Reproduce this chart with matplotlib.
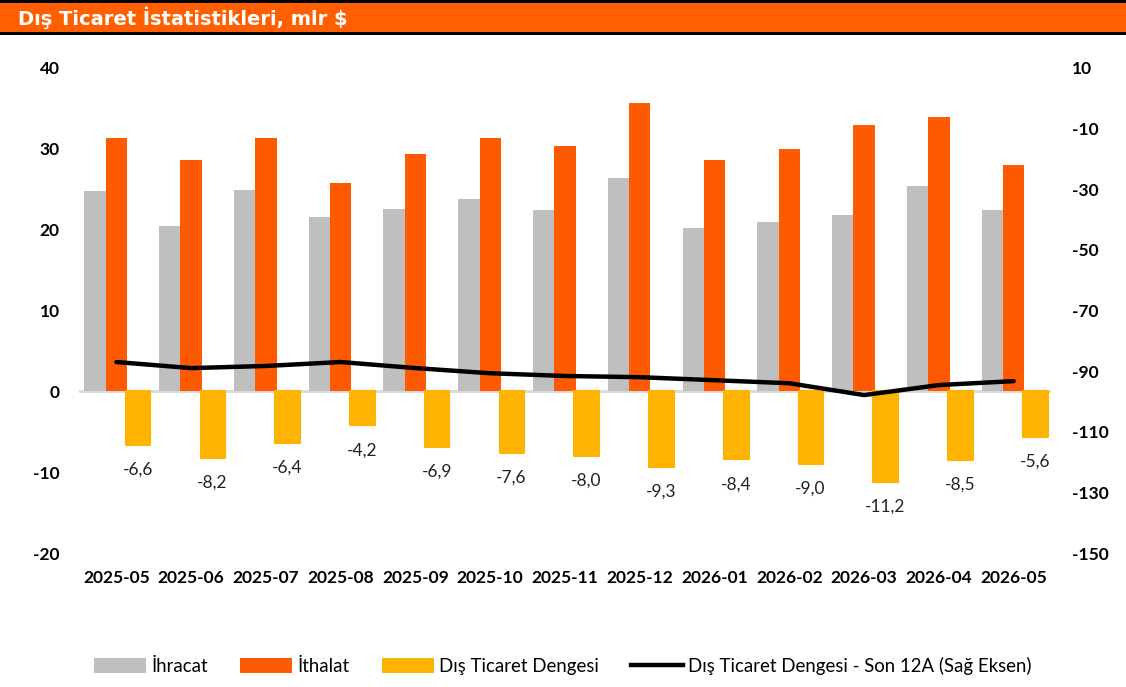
import matplotlib.pyplot as plt
from matplotlib.patches import Rectangle, Patch
from matplotlib.lines import Line2D
import numpy as np

months = ['2025-05', '2025-06', '2025-07', '2025-08', '2025-09', '2025-10', '2025-11',
          '2025-12', '2026-01', '2026-02', '2026-03', '2026-04', '2026-05']
ihracat = [24.8, 20.4, 24.9, 21.6, 22.5, 23.8, 22.4, 26.4, 20.2, 21.0, 21.8, 25.4, 22.4]
ithalat = [31.4, 28.6, 31.3, 25.8, 29.4, 31.4, 30.4, 35.7, 28.6, 30.0, 33.0, 33.9, 28.0]
denge = [-6.6, -8.2, -6.4, -4.2, -6.9, -7.6, -8.0, -9.3, -8.4, -9.0, -11.2, -8.5, -5.6]
denge_12a = [-87.0, -89.0, -88.3, -87.0, -89.0, -90.7, -91.6, -92.0, -93.0, -94.0, -97.9, -94.6, -93.3]

GRAY = '#BFBFBF'
ORANGE = '#FF5A00'
YELLOW = '#FDB300'

plt.rcParams['font.family'] = ['Lato', 'DejaVu Sans']
plt.rcParams['axes.unicode_minus'] = False

fig = plt.figure(figsize=(11.26, 6.87), dpi=100)

# title band
fig.patches.append(Rectangle((0, 1 - 33 / 687), 1, 30 / 687, transform=fig.transFigure,
                             facecolor='#FF5F00', edgecolor='none'))
fig.patches.append(Rectangle((0, 1 - 3 / 687), 1, 3 / 687, transform=fig.transFigure,
                             facecolor='black', edgecolor='none'))
fig.patches.append(Rectangle((0, 1 - 35 / 687), 1, 3 / 687, transform=fig.transFigure,
                             facecolor='black', edgecolor='none'))
fig.text(18 / 1126, 1 - 18 / 687, 'Dış Ticaret İstatistikleri, mlr $', color='white',
         fontsize=14, fontweight='bold', va='center', ha='left', family='DejaVu Sans')

ax = fig.add_axes([79 / 1126, 134 / 687, 972 / 1126, 485 / 687])
x = np.arange(len(months))
w = 0.285
ax.bar(x - w, ihracat, width=w, color=GRAY, zorder=2)
ax.bar(x, ithalat, width=w, color=ORANGE, zorder=2)
ax.bar(x + w + 0.005, denge, width=0.33, color=YELLOW, edgecolor=YELLOW,
       linewidth=1.5, joinstyle='round', zorder=2)
ax.axhline(0, color='#D9D9D9', linewidth=2, zorder=1)

for xi, v in zip(x, denge):
    ax.annotate(f'{v:.1f}'.replace('.', ','), (xi + w, v), xytext=(0, -18),
                textcoords='offset points', ha='center', va='center',
                fontsize=12.5, color='#222222')

ax.set_xlim(-0.5, len(months) - 0.5)
ax.set_ylim(-20, 40)
ax.set_yticks([-20, -10, 0, 10, 20, 30, 40])
ax.set_xticks(x)
ax.set_xticklabels(months)
for s in ax.spines.values():
    s.set_visible(False)
ax.tick_params(length=0, labelsize=12.5)
ax.tick_params(axis='y', pad=14)
ax.tick_params(axis='x', pad=12)
for lbl in ax.get_xticklabels() + ax.get_yticklabels():
    lbl.set_fontweight('bold')

ax2 = ax.twinx()
ax2.plot(x, denge_12a, color='black', linewidth=3.2, solid_capstyle='round', zorder=3)
ax2.set_ylim(-150, 10)
ax2.set_yticks(np.arange(-150, 11, 20))
for s in ax2.spines.values():
    s.set_visible(False)
ax2.tick_params(length=0, labelsize=12.5, pad=15)
for lbl in ax2.get_yticklabels():
    lbl.set_fontweight('bold')

handles = [Patch(facecolor=GRAY), Patch(facecolor=ORANGE), Patch(facecolor=YELLOW),
           Line2D([0], [0], color='black', linewidth=3.2)]
labels = ['İhracat', 'İthalat', 'Dış Ticaret Dengesi', 'Dış Ticaret Dengesi - Son 12A (Sağ Eksen)']
fig.legend(handles, labels, loc='center', bbox_to_anchor=(0.5, 1 - 666 / 687), ncol=4,
           frameon=False, fontsize=13.4, handlelength=2.8, handleheight=0.8,
           handletextpad=0.3, columnspacing=1.7)

fig.savefig('out.png', dpi=100)
